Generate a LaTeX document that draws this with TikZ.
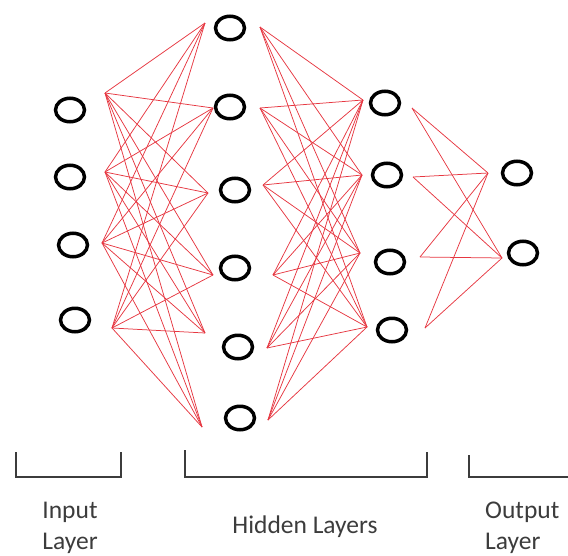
\documentclass[tikz,border=0pt]{standalone}
\usepackage{fontspec}
\setmainfont{Carlito}
\usetikzlibrary{shapes.geometric}
\definecolor{wirered}{RGB}{230,55,65}
\definecolor{labelgray}{RGB}{60,60,60}
\begin{document}
\begin{tikzpicture}[x=1pt,y=-1pt,
  neuron/.style={draw=black, ellipse, line width=3.5pt, minimum width=29pt, minimum height=23.5pt, inner sep=0pt},
  wire/.style={draw=wirered, line width=0.75pt},
  bracket/.style={draw=labelgray, line width=1.3pt},
  lbl/.style={text=labelgray, font=\fontsize{25.5}{31}\selectfont, inner sep=0pt}]
\useasboundingbox (0,0) rectangle (568,555);
% input layer
\node[neuron] (i1) at (70,110) {};
\node[neuron] (i2) at (70,177) {};
\node[neuron] (i3) at (73,245) {};
\node[neuron] (i4) at (75,320) {};
% hidden layer 1
\node[neuron] (a1) at (230,28) {};
\node[neuron] (a2) at (230,107) {};
\node[neuron] (a3) at (235,190) {};
\node[neuron] (a4) at (235,268) {};
\node[neuron] (a5) at (238,347) {};
\node[neuron] (a6) at (240,418) {};
% hidden layer 2
\node[neuron] (b1) at (385,103) {};
\node[neuron] (b2) at (387,175) {};
\node[neuron] (b3) at (390,262) {};
\node[neuron] (b4) at (392,330) {};
% output layer
\node[neuron] (o1) at (517,173) {};
\node[neuron] (o2) at (523,253) {};
% ports
\coordinate (i1r) at (105,93);
\coordinate (i2r) at (105,172);
\coordinate (i3r) at (102,243);
\coordinate (i4r) at (112,328);
\coordinate (a1l) at (205,23);
\coordinate (a2l) at (213,108);
\coordinate (a3l) at (208,193);
\coordinate (a4l) at (213,275);
\coordinate (a5l) at (205,333);
\coordinate (a6l) at (202,427);
\coordinate (a1r) at (260,27);
\coordinate (a2r) at (260,108);
\coordinate (a3r) at (263,185);
\coordinate (a4r) at (273,275);
\coordinate (a5r) at (267,348);
\coordinate (a6r) at (268,420);
\coordinate (b1l) at (363,100);
\coordinate (b2l) at (362,175);
\coordinate (b3l) at (360,253);
\coordinate (b4l) at (367,327);
\coordinate (b1r) at (412,108);
\coordinate (b2r) at (413,177);
\coordinate (b3r) at (420,257);
\coordinate (b4r) at (425,328);
\coordinate (o1l) at (488,173);
\coordinate (o2l) at (502,258);
% connections
\foreach \s in {1,...,4}{\foreach \t in {1,...,6}{\draw[wire] (i\s r) -- (a\t l);}}
\foreach \s in {1,...,6}{\foreach \t in {1,...,4}{\draw[wire] (a\s r) -- (b\t l);}}
\foreach \s in {1,...,4}{\foreach \t in {1,2}{\draw[wire] (b\s r) -- (o\t l);}}
% brackets
\draw[bracket] (16,452) -- (16,477) -- (121,477) -- (121,452);
\draw[bracket] (185,450) -- (185,477) -- (427,477) -- (427,452);
\draw[bracket] (469,455) -- (469,477) -- (568,477);
% labels
\node[lbl, anchor=base] (t1) at (70,518) {Input};
\node[lbl, anchor=base] (t2) at (70,549) {Layer};
\node[lbl, anchor=base] (t3) at (305,533) {Hidden Layers};
\node[lbl, anchor=base west] (t4) at (485,518) {Output};
\node[lbl, anchor=base west] (t5) at (485,549) {Layer};
\end{tikzpicture}
\end{document}
